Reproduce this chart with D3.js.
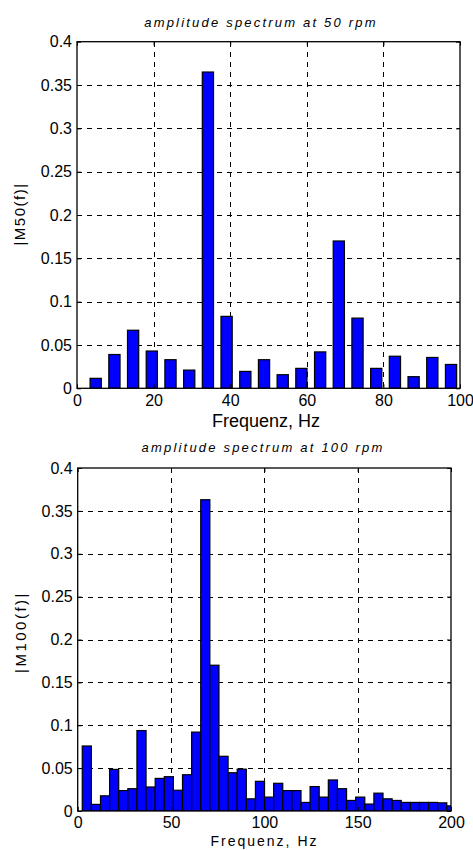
<!DOCTYPE html>
<html>
<head>
<meta charset="utf-8">
<script src="https://cdn.jsdelivr.net/npm/d3@7/dist/d3.min.js"></script>
<style>
  body { margin: 0; background: #fff; }
  text { font-family: "Liberation Sans", Arial, sans-serif; fill: #000; }
</style>
</head>
<body>
<script>
// frequency bins (Hz) and amplitudes
const freq50 = [4.88, 9.77, 14.65, 19.53, 24.41, 29.30, 34.18, 39.06, 43.95, 48.83,
  53.71, 58.59, 63.48, 68.36, 73.24, 78.13, 83.01, 87.89, 92.77, 97.66];
const amp50 = [0.0115, 0.039, 0.067, 0.043, 0.033, 0.021, 0.365, 0.083, 0.0195, 0.033,
  0.0157, 0.023, 0.042, 0.170, 0.081, 0.023, 0.037, 0.0134, 0.0356, 0.0275];

const freq100 = [4.88, 9.77, 14.65, 19.53, 24.41, 29.30, 34.18, 39.06, 43.95, 48.83,
  53.71, 58.59, 63.48, 68.36, 73.24, 78.13, 83.01, 87.89, 92.77, 97.66,
  102.54, 107.42, 112.30, 117.19, 122.07, 126.95, 131.84, 136.72, 141.60, 146.48,
  151.37, 156.25, 161.13, 166.02, 170.90, 175.78, 180.66, 185.55, 190.43, 195.31, 200.20];
const amp100 = [0.0758, 0.0077, 0.0177, 0.0485, 0.0238, 0.026, 0.0938, 0.028, 0.038, 0.040,
  0.0242, 0.0423, 0.092, 0.363, 0.170, 0.0638, 0.0446, 0.0488, 0.0142, 0.0346,
  0.0162, 0.0323, 0.0238, 0.0238, 0.010, 0.0285, 0.0162, 0.0362, 0.026, 0.0123,
  0.0162, 0.0081, 0.0208, 0.0142, 0.0123, 0.010, 0.010, 0.010, 0.010, 0.0095, 0.006];

const yTicks = [0, 0.05, 0.1, 0.15, 0.2, 0.25, 0.3, 0.35, 0.4];
const xTicks50 = [0, 20, 40, 60, 80, 100];
const xTicks100 = [0, 50, 100, 150, 200];

const binWidth = 4.8828;

const svg = d3.select("body").append("svg")
    .attr("width", 473)
    .attr("height", 850)
    .style("background", "white");

function drawPanel(p) {
    const x = d3.scaleLinear().domain(p.xDomain).range([p.left, p.right]);
    const y = d3.scaleLinear().domain([0, 0.4]).range([p.bottom, p.top]);
    const g = svg.append("g");
    const fmt = d => String(+d.toFixed(2));
    const px = v => Math.round(v) + 0.5;

    // dashed grid, behind the bars
    g.append("g")
        .selectAll("line")
        .data(p.xTicks.slice(1, -1))
        .join("line")
        .attr("x1", d => px(x(d))).attr("x2", d => px(x(d)))
        .attr("y1", p.top).attr("y2", p.bottom)
        .attr("stroke", "#000").attr("stroke-dasharray", "5,5")
        .attr("shape-rendering", "crispEdges");
    g.append("g")
        .selectAll("line")
        .data(yTicks.slice(1, -1))
        .join("line")
        .attr("x1", p.left).attr("x2", p.right)
        .attr("y1", d => px(y(d))).attr("y2", d => px(y(d)))
        .attr("stroke", "#000").attr("stroke-dasharray", "5,5")
        .attr("shape-rendering", "crispEdges");

    // bars
    const clipId = "clip" + p.id;
    g.append("clipPath").attr("id", clipId)
        .append("rect")
        .attr("x", p.left).attr("y", p.top)
        .attr("width", p.right - p.left).attr("height", p.bottom - p.top);
    const bw = p.barFrac * binWidth;
    g.append("g")
        .attr("clip-path", `url(#${clipId})`)
        .selectAll("rect")
        .data(p.freq.map((f, i) => ({ f, v: p.amp[i] })))
        .join("rect")
        .attr("x", d => x(d.f - bw / 2))
        .attr("width", x(bw) - x(0))
        .attr("y", d => y(d.v))
        .attr("height", d => y(0) - y(d.v))
        .attr("fill", "#0000ff")
        .attr("stroke", "#000")
        .attr("stroke-width", 1.2);

    // axes with inward ticks
    const ax = g.append("g")
        .attr("transform", `translate(0,${p.bottom})`)
        .call(d3.axisBottom(x).tickValues(p.xTicks).tickFormat(fmt).tickSize(-4).tickPadding(p.xPad));
    const ay = g.append("g")
        .attr("transform", `translate(${p.left},0)`)
        .call(d3.axisLeft(y).tickValues(yTicks).tickFormat(fmt).tickSize(-4).tickPadding(5));
    g.append("g")
        .attr("transform", `translate(0,${p.top})`)
        .call(d3.axisTop(x).tickValues(p.xTicks).tickFormat("").tickSize(-4));
    g.append("g")
        .attr("transform", `translate(${p.right},0)`)
        .call(d3.axisRight(y).tickValues(yTicks).tickFormat("").tickSize(-4));
    g.selectAll(".domain").remove();
    g.selectAll(".tick line").attr("stroke", "#000");
    ax.selectAll("text").attr("font-size", 16).attr("font-family", null);
    ay.selectAll("text").attr("font-size", 16).attr("font-family", null);

    // frame
    g.append("rect")
        .attr("x", p.left).attr("y", p.top)
        .attr("width", p.right - p.left).attr("height", p.bottom - p.top)
        .attr("fill", "none").attr("stroke", "#000").attr("stroke-width", 1.3);

    // title
    g.append("text")
        .attr("x", p.titleX).attr("y", p.titleY)
        .attr("text-anchor", "middle")
        .attr("font-size", 13)
        .attr("font-style", "italic")
        .attr("letter-spacing", 2.2)
        .text(p.title);

    // x label
    g.append("text")
        .attr("x", p.xLabelX).attr("y", p.xLabelY)
        .attr("text-anchor", "middle")
        .attr("font-size", p.xLabelSize)
        .attr("letter-spacing", p.xLabelSpacing)
        .text("Frequenz, Hz");

    // y label
    g.append("text")
        .attr("transform", `translate(${p.yLabelX},${p.yLabelY}) rotate(-90)`)
        .attr("text-anchor", "middle")
        .attr("font-size", 15)
        .attr("letter-spacing", p.yLabelSpacing)
        .text(p.yLabel);
}

drawPanel({
    id: 50, freq: freq50, amp: amp50, xDomain: [0, 100], xTicks: xTicks50,
    left: 77, right: 460, top: 41.7, bottom: 388.3, barFrac: 0.6, xPad: 6,
    title: "amplitude spectrum at 50 rpm", titleX: 261, titleY: 26.5,
    xLabelX: 266, xLabelY: 427, xLabelSize: 18, xLabelSpacing: 0,
    yLabel: "|M50(f)|", yLabelX: 25, yLabelY: 214, yLabelSpacing: 1.5
});

drawPanel({
    id: 100, freq: freq100, amp: amp100, xDomain: [0, 200], xTicks: xTicks100,
    left: 77.7, right: 451, top: 468, bottom: 811, barFrac: 1.0, xPad: 6,
    title: "amplitude spectrum at 100 rpm", titleX: 263, titleY: 451.5,
    xLabelX: 264.5, xLabelY: 846, xLabelSize: 14, xLabelSpacing: 2,
    yLabel: "|M100(f)|", yLabelX: 26, yLabelY: 632, yLabelSpacing: 2.5
});
</script>
</body>
</html>
